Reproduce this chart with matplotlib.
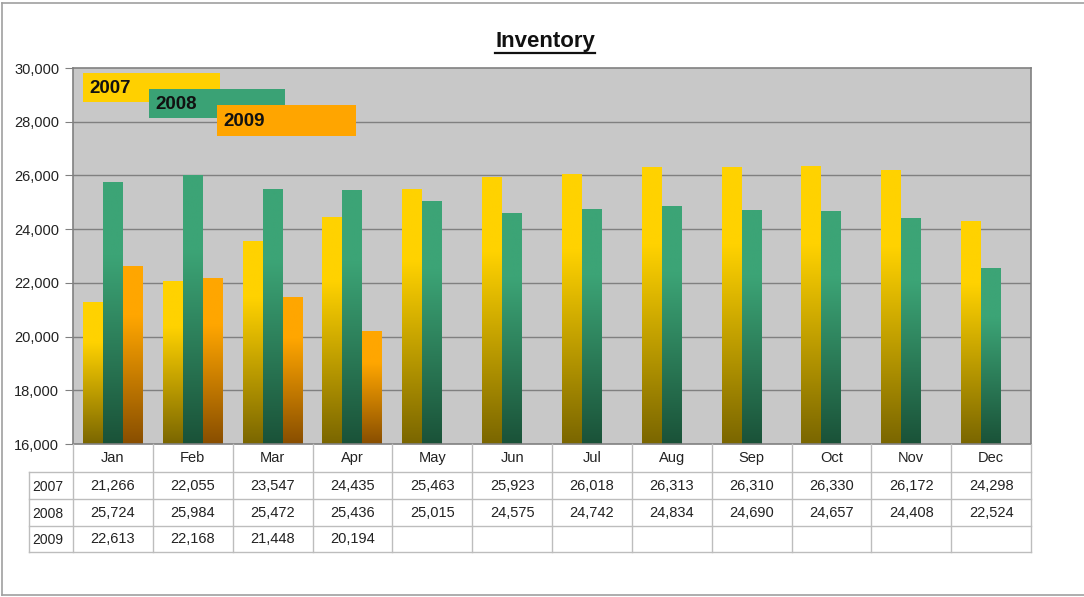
import matplotlib
matplotlib.use("Agg")
import matplotlib.pyplot as plt
import numpy as np
from matplotlib.colors import LinearSegmentedColormap
from matplotlib.lines import Line2D
from matplotlib.patches import Rectangle
from matplotlib import transforms

plt.rcParams['font.family'] = ['Liberation Sans', 'DejaVu Sans']

months = ["Jan", "Feb", "Mar", "Apr", "May", "Jun", "Jul", "Aug", "Sep", "Oct", "Nov", "Dec"]
years = ["2007", "2008", "2009"]
inv_2007 = [21266, 22055, 23547, 24435, 25463, 25923, 26018, 26313, 26310, 26330, 26172, 24298]
inv_2008 = [25724, 25984, 25472, 25436, 25015, 24575, 24742, 24834, 24690, 24657, 24408, 22524]
inv_2009 = [22613, 22168, 21448, 20194]
series = [inv_2007, inv_2008, inv_2009]
yticks = [16000, 18000, 20000, 22000, 24000, 26000, 28000, 30000]

bright = ["#FFD200", "#3CA476", "#FFA600"]
dark = ["#7A6600", "#1A5238", "#884E00"]
box_col = ["#FFD000", "#3AA275", "#FFA500"]

W, H = 1084, 597
fig = plt.figure(figsize=(W / 100, H / 100), dpi=100)
fig.patch.set_facecolor("white")

def fx(x):
    return x / W

def fy(y):
    return 1 - y / H

L, R, T, B = 73, 1031, 68, 444
ax = fig.add_axes([fx(L), fy(B), fx(R) - fx(L), fy(T) - fy(B)])
ax.set_facecolor("#C8C8C8")
ax.set_xlim(0, 12)
ax.set_ylim(16000, 30000)
ax.set_yticks(yticks)
ax.set_yticklabels([f"{v:,}" for v in yticks], fontsize=10.5, color="#222222")
ax.tick_params(axis='y', length=6, width=0.8, color="#808080", pad=4)
ax.set_xticks([])
for s in ax.spines.values():
    s.set_color("#808080")
    s.set_linewidth(1.2)
for v in yticks[1:-1]:
    ax.axhline(v, color="#808080", lw=1.0, zorder=1)

bw = 0.25
for k, vals in enumerate(series):
    cmap = LinearSegmentedColormap.from_list(
        f"c{k}", [(0, dark[k]), (0.72, bright[k]), (1, bright[k])])
    grad = np.linspace(0, 1, 256).reshape(-1, 1)
    for i, v in enumerate(vals):
        x0 = i + 0.125 + k * bw
        ax.imshow(grad, extent=(x0, x0 + bw, 16000, v), aspect='auto',
                  cmap=cmap, origin='lower', zorder=2, interpolation='bilinear')
ax.set_xlim(0, 12)
ax.set_ylim(16000, 30000)

# legend boxes
boxes = [(83, 73, 220, 102), (149, 89, 285, 118), (217, 105, 356, 136)]
for k, (x0, y0, x1, y1) in enumerate(boxes):
    fig.patches.append(Rectangle((fx(x0), fy(y1)), fx(x1) - fx(x0), fy(y0) - fy(y1),
                                 transform=fig.transFigure, facecolor=box_col[k],
                                 edgecolor='none', zorder=5))
    fig.text(fx(x0 + 6), fy((y0 + y1) / 2 + 1), years[k], fontsize=13.5, fontweight='bold',
             color="#111111", ha='left', va='center', zorder=6)

# title
t = fig.text(fx(545), fy(42), "Inventory", fontsize=16, fontweight='bold',
             ha='center', va='center', color="#111111")
fig.canvas.draw()
bb = t.get_window_extent()
fig.lines.append(Line2D([bb.x0 / W, bb.x1 / W], [fy(53), fy(53)], transform=fig.transFigure,
                        color="#111111", lw=1.6))

# data table
tr = transforms.blended_transform_factory(ax.transData, fig.transFigure)
gc = "#BDBDBD"
row_lines = [472, 499, 526, 552]
row_centers = [486, 513, 539]
for y in row_lines:
    fig.lines.append(Line2D([fx(29), fx(R)], [fy(y), fy(y)], transform=fig.transFigure,
                            color=gc, lw=1.0))
for i in range(13):
    fig.lines.append(Line2D([i, i], [fy(B), fy(552)], transform=tr, color=gc, lw=1.0))
fig.lines.append(Line2D([fx(29), fx(29)], [fy(472), fy(552)], transform=fig.transFigure,
                        color=gc, lw=1.0))
for i, m in enumerate(months):
    fig.text(i + 0.5, fy(458), m, transform=tr, fontsize=10.5, ha='center', va='center',
             color="#222222")
for k, vals in enumerate(series):
    fig.text(fx(32), fy(row_centers[k] + 1), years[k], fontsize=10, ha='left', va='center',
             color="#222222")
    for i, v in enumerate(vals):
        fig.text(i + 0.5, fy(row_centers[k]), f"{v:,}", transform=tr, fontsize=10.5,
                 ha='center', va='center', color="#222222")

# outer border
for (xa, ya, xb, yb) in [(2, 3, 1090, 3), (2, 3, 2, 595), (2, 595, 1090, 595)]:
    fig.lines.append(Line2D([fx(xa), fx(xb)], [fy(ya), fy(yb)], transform=fig.transFigure,
                            color="#A0A0A0", lw=1.2))

fig.savefig("out.png", dpi=100)
